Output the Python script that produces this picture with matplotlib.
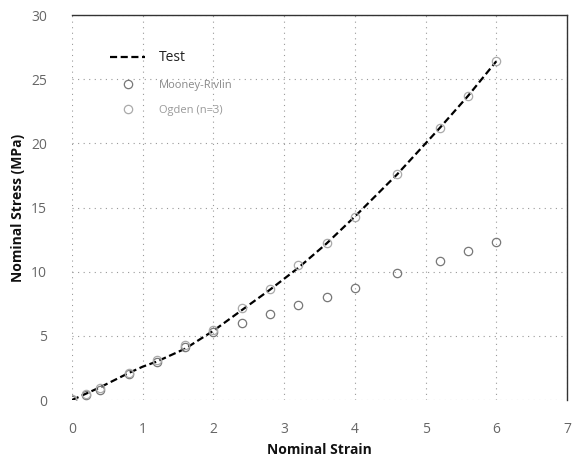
import numpy as np
import matplotlib
matplotlib.use("Agg")
import matplotlib.pyplot as plt

plt.rcParams["font.family"] = ["Open Sans", "DejaVu Sans"]

# Uniaxial test curve (nominal strain vs nominal stress, MPa)
test_strain = [0.0, 0.2, 0.4, 0.8, 1.0, 1.2, 1.6, 2.0, 2.4, 2.8, 3.2, 3.6,
               4.0, 4.6, 5.2, 5.6, 6.0]
test_stress = [0.0, 0.5, 1.0, 2.1, 2.6, 3.0, 4.0, 5.4, 7.0, 8.6, 10.3, 12.2,
               14.3, 17.6, 21.2, 23.7, 26.4]

# Fitted model predictions at the sampled strains
fit_strain = [0.0, 0.2, 0.4, 0.8, 1.2, 1.6, 2.0, 2.4, 2.8, 3.2, 3.6, 4.0,
              4.6, 5.2, 5.6, 6.0]
mooney_rivlin = [0.0, 0.4, 0.8, 2.0, 3.0, 4.1, 5.3, 6.0, 6.7, 7.4, 8.0, 8.7,
                 9.9, 10.8, 11.6, 12.3]
ogden_n3 = [0.1, 0.5, 0.9, 2.1, 3.1, 4.3, 5.45, 7.2, 8.65, 10.5, 12.2, 14.3,
            17.6, 21.2, 23.7, 26.4]

x_ticks = [0, 1, 2, 3, 4, 5, 6, 7]
y_ticks = [0, 5, 10, 15, 20, 25, 30]

fig = plt.figure(figsize=(5.78, 4.57), dpi=100)
ax = fig.add_axes([0.1246, 0.1247, 0.8564, 0.8423])

ax.plot(test_strain, test_stress, ls=(0, (3.2, 1.6)), color="black",
        lw=1.6, label="Test", zorder=3)
ax.plot(fit_strain, mooney_rivlin, ls="none", marker="o", ms=6,
        mfc="none", mec="#777777", mew=0.9, label="Mooney-Rivlin", zorder=4)
ax.plot(fit_strain, ogden_n3, ls="none", marker="o", ms=6,
        mfc="none", mec="#aaaaaa", mew=0.9, label="Ogden (n=3)", zorder=4)

ax.set_xlim(0, 7)
ax.set_ylim(0, 30)
ax.set_xticks(x_ticks)
ax.set_yticks(y_ticks)
ax.grid(True, ls=(0, (1, 4)), color="#999999", lw=0.8)

for side in ["left", "bottom"]:
    ax.spines[side].set_visible(False)
for side in ["top", "right"]:
    ax.spines[side].set_color("#333333")
    ax.spines[side].set_linewidth(1.0)

ax.tick_params(length=0, labelsize=10, labelcolor="#666666")
ax.tick_params(axis="x", pad=16)
ax.tick_params(axis="y", pad=18)
ax.set_xlabel("Nominal Strain", fontsize=10, fontweight="bold",
              color="#111111", labelpad=4)
ax.set_ylabel("Nominal Stress (MPa)", fontsize=10, fontweight="bold",
              color="#111111", labelpad=4)

leg = ax.legend(loc="upper left", bbox_to_anchor=(0.056, 0.935), frameon=False,
                handlelength=3.2, handletextpad=1.2, labelspacing=1.3,
                numpoints=1, fontsize=8)
texts = leg.get_texts()
texts[0].set_fontsize(10)
texts[0].set_color("#222222")
texts[1].set_color("#888888")
texts[2].set_color("#999999")

fig.savefig("out.png", dpi=100)
